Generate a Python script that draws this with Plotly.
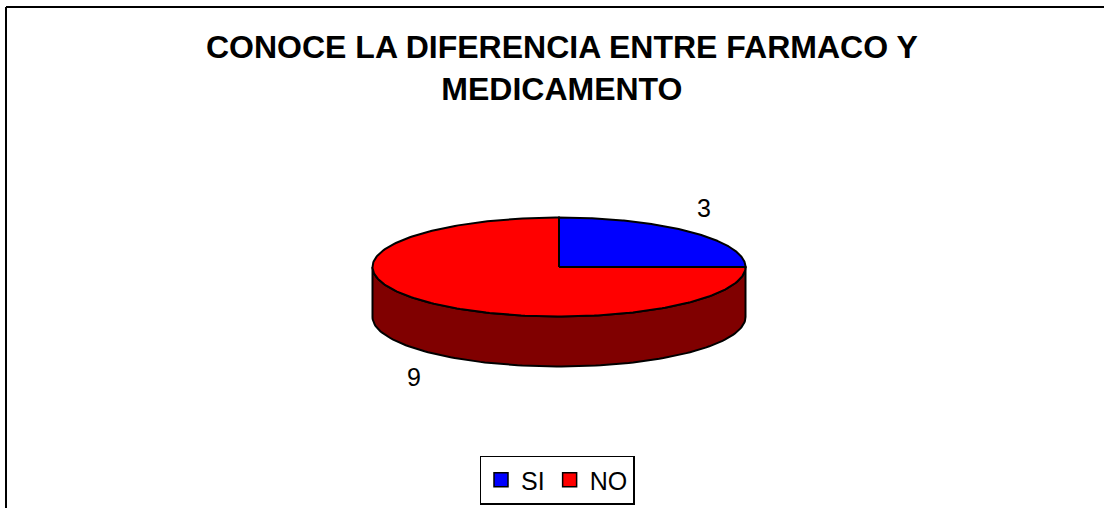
import numpy as np
import plotly.graph_objects as go

# ---- data ----
categories = ["SI", "NO"]
values = [3, 9]
top_colors = ["#0000FF", "#FF0000"]
side_colors = ["#000080", "#800000"]
title_lines = ["CONOCE LA DIFERENCIA ENTRE FARMACO Y", "MEDICAMENTO"]

# ---- layout constants (pixel space) ----
W, H = 1104, 508
CX, CY = 559.0, 267.0
RX, RY = 186.5, 49.5
DEPTH = 50.0
FONT = "Arial, Liberation Sans, sans-serif"

fig = go.Figure()

total = float(sum(values))
# slices start at 12 o'clock going clockwise (math angles, y up)
starts, ends = [], []
a = np.pi / 2
for v in values:
    sweep = 2 * np.pi * v / total
    starts.append(a - sweep)
    ends.append(a)
    a -= sweep


def ell(t):
    return CX + RX * np.cos(t), CY - RY * np.sin(t)


# side walls (front half: angles in [-pi, 0] modulo 2pi)
for i in range(len(values)):
    s, e = starts[i], ends[i]
    for k in (-2, -1, 0, 1):
        lo = max(s, -np.pi + 2 * np.pi * k)
        hi = min(e, 0 + 2 * np.pi * k)
        if hi - lo > 1e-9:
            t = np.linspace(lo, hi, 120)
            x, y = ell(t)
            xs = np.concatenate([x, x[::-1], x[:1]])
            ys = np.concatenate([y, (y + DEPTH)[::-1], y[:1]])
            fig.add_trace(go.Scatter(
                x=xs, y=ys, mode="lines", fill="toself",
                fillcolor=side_colors[i], line=dict(color="black", width=2),
                hoverinfo="skip", showlegend=False))

# top faces
for i in range(len(values)):
    t = np.linspace(starts[i], ends[i], 240)
    x, y = ell(t)
    xs = np.concatenate([[CX], x, [CX]])
    ys = np.concatenate([[CY], y, [CY]])
    fig.add_trace(go.Scatter(
        x=xs, y=ys, mode="lines", fill="toself",
        fillcolor=top_colors[i], line=dict(color="black", width=2),
        hoverinfo="skip", showlegend=False))

# legend entries
for i, c in enumerate(categories):
    fig.add_trace(go.Scatter(
        x=[None], y=[None], mode="markers", name=c,
        marker=dict(symbol="square", size=14, color=top_colors[i],
                    line=dict(color="black", width=1.5))))

# value labels
annotations = []
for i, v in enumerate(values):
    m = (starts[i] + ends[i]) / 2
    lx = CX + 1.1 * RX * np.cos(m)
    ly = CY - 1.7 * RY * np.sin(m) + (DEPTH if np.sin(m) < 0 else 0)
    annotations.append(dict(x=lx, y=ly, xref="x", yref="y", text=str(v),
                            showarrow=False, font=dict(family=FONT, size=25, color="black")))

annotations.append(dict(x=561.5 / W, y=1 - 68 / H, xref="paper", yref="paper",
                        text="<b>" + "<br>".join(title_lines) + "</b>", showarrow=False,
                        xanchor="center", yanchor="middle",
                        font=dict(family=FONT, size=32, color="black")))

shapes = [
    dict(type="line", xref="paper", yref="paper", x0=6 / W, x1=1, y0=1 - 7 / H, y1=1 - 7 / H,
         line=dict(color="black", width=2)),
    dict(type="line", xref="paper", yref="paper", x0=6 / W, x1=6 / W, y0=1 - 7 / H, y1=0,
         line=dict(color="black", width=2)),
]

fig.update_layout(
    width=W, height=H,
    margin=dict(l=0, r=0, t=0, b=0),
    paper_bgcolor="white", plot_bgcolor="white",
    xaxis=dict(range=[0, W], visible=False, fixedrange=True),
    yaxis=dict(range=[H, 0], visible=False, fixedrange=True),
    showlegend=True,
    legend=dict(orientation="h", x=557 / W, xanchor="center", y=1 - 480 / H, yanchor="middle",
                bordercolor="black", borderwidth=1.5, bgcolor="white",
                font=dict(family=FONT, size=25, color="black"),
                itemwidth=30, tracegroupgap=0),
    annotations=annotations,
    shapes=shapes,
)

fig.write_html("out.html", config={"displayModeBar": False},
               post_script="document.body.style.margin='0';document.body.style.overflow='hidden';")
